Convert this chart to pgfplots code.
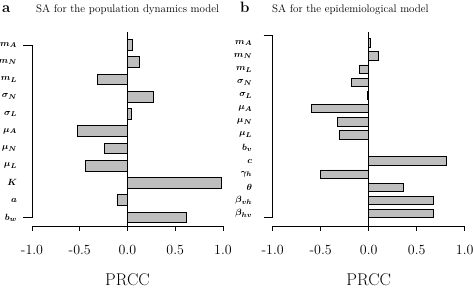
\documentclass[border=0pt]{standalone}
\usepackage{pgfplots}
\pgfplotsset{compat=1.18}
\definecolor{bargray}{RGB}{190,190,190}
\begin{document}
\begin{tikzpicture}
\useasboundingbox (0pt,0pt) rectangle (473pt,287pt);
\pgfplotsset{
  prcc/.style={
    scale only axis, clip=false, height=194pt, xmin=-1, xmax=1,
    axis x line*=bottom, x axis line style={-, line width=0.85pt},
    y axis line style={draw=none},
    xtick={-1,-0.5,0,0.5,1}, xticklabels={-1.0,-0.5,0.0,0.5,1.0},
    tick align=outside, major tick length=4.5pt,
    xtick style={line width=0.85pt, black},
    xticklabel style={font=\fontsize{14}{14}\selectfont, anchor=base, yshift=-23.5pt},
    ytick style={draw=none},
    yticklabel style={font=\fontsize{9.5}{10}\selectfont\boldmath, anchor=east},
    xlabel={PRCC},
    xlabel style={font=\fontsize{17}{17}\selectfont, at={(axis description cs:0.5,0)}, anchor=base, yshift=-59pt},
    xbar,
  }
}
% Panel a
\begin{axis}[prcc, at={(32pt,61pt)}, anchor=south west, width=191pt,
  ymin=0.5, ymax=11.75, bar width=10.7pt,
  ytick={1,...,11},
  yticklabels={$b_w$,$a$,$K$,$\mu_L$,$\mu_N$,$\mu_A$,$\sigma_L$,$\sigma_N$,$m_L$,$m_N$,$m_A$},
  yticklabel style={xshift=-7pt}]
\addplot[draw=black, fill=bargray, line width=0.8pt] coordinates {
(0.62,1) (-0.11,2) (0.98,3) (-0.44,4) (-0.24,5) (-0.52,6) (0.04,7) (0.27,8) (-0.31,9) (0.12,10) (0.05,11)};
\draw[line width=0.85pt] (axis cs:0,0.5) -- (axis cs:0,11.75);
\draw[line width=0.85pt] ([xshift=-9pt]axis cs:-1,11) -- (axis cs:-1,11) -- (axis cs:-1,1) -- ([xshift=-9pt]axis cs:-1,1);
\end{axis}
% Panel b
\begin{axis}[prcc, at={(272.7pt,61pt)}, anchor=south west, width=192pt,
  ymin=0.047, ymax=14.84, bar width=8.5pt,
  ytick={1,...,14},
  yticklabels={$\beta_{hv}$,$\beta_{vh}$,$\theta$,$\gamma_h$,$c$,$b_v$,$\mu_L$,$\mu_N$,$\mu_A$,$\sigma_L$,$\sigma_N$,$m_L$,$m_N$,$m_A$},
  yticklabel style={xshift=-12.5pt}]
\addplot[draw=black, fill=bargray, line width=0.8pt] coordinates {
(0.67,1) (0.67,2) (0.36,3) (-0.50,4) (0.81,5) (0,6) (-0.31,7) (-0.33,8) (-0.60,9) (-0.01,10) (-0.18,11) (-0.10,12) (0.10,13) (0.02,14)};
\draw[line width=0.85pt] (axis cs:0,0.047) -- (axis cs:0,14.84);
\draw[line width=0.85pt] ([xshift=-9pt]axis cs:-1,14.61) -- (axis cs:-1,14.61) -- (axis cs:-1,0.733) -- ([xshift=-9pt]axis cs:-1,0.733);
\end{axis}
\node[anchor=base west, font=\fontsize{15}{15}\selectfont\bfseries, inner sep=0] at (2pt,274pt) {a};
\node[anchor=base west, font=\fontsize{11}{11}\selectfont, inner sep=0] at (36pt,274pt) {SA for the population dynamics model};
\node[anchor=base west, font=\fontsize{15}{15}\selectfont\bfseries, inner sep=0] at (240pt,274pt) {b};
\node[anchor=base west, font=\fontsize{11}{11}\selectfont, inner sep=0] at (272pt,274pt) {SA for the epidemiological model};
\end{tikzpicture}
\end{document}
